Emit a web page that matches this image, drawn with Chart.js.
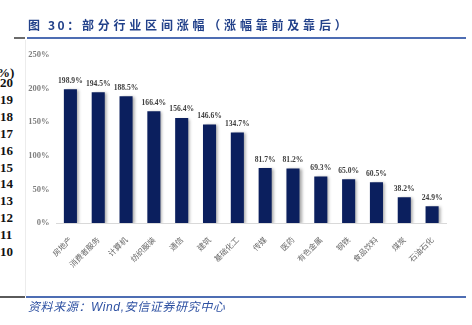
<!DOCTYPE html>
<html>
<head>
<meta charset="utf-8">
<script src="https://cdn.jsdelivr.net/npm/chart.js@4"></script>
<style>
  html, body { margin: 0; padding: 0; background: #fff; }
  #wrap { position: relative; width: 472px; height: 325px; overflow: hidden; background: #fff; }
  #chart { position: absolute; left: 0; top: 0; }
  .title { position: absolute; left: 28px; top: 16px; font: bold 12px "Noto Sans CJK SC", sans-serif;
           color: #22418a; letter-spacing: 3.8px; white-space: nowrap; line-height: 18px; }
  .title .num { letter-spacing: 2.6px; }
  .rule { position: absolute; height: 2px; }
  .src { position: absolute; left: 28px; top: 299px; font: italic 12px "Liberation Sans", "Noto Sans CJK SC", sans-serif;
         color: #2e51a2; letter-spacing: 0.6px; white-space: nowrap; line-height: 16px; }
  .side { position: absolute; left: 0; font: bold 13px "Liberation Serif", serif; color: #111; line-height: 14px; }
  .vline { position: absolute; left: 25px; top: 40px; width: 1px; height: 256px; background: #ececec; }
</style>
</head>
<body>
<div id="wrap">
  <div class="vline"></div>
  <div id="side"></div>
  <canvas id="chart" width="472" height="325"></canvas>
  <div class="title"><span class="num">图 30：</span>部分行业区间涨幅（涨幅靠前及靠后）</div>
  <div class="rule" style="left:14px; top:37px; width:11px; background:#6b6b6b;"></div>
  <div class="rule" style="left:27px; top:37px; width:439px; background:#4e6db3;"></div>
  <div class="rule" style="left:0px; top:296px; width:25px; background:#5a5a5a;"></div>
  <div class="rule" style="left:26px; top:296px; width:440px; background:#4e6db3;"></div>
  <div class="src">资料来源：Wind,安信证券研究中心</div>
</div>
<script>
// 行业区间涨幅（%）
const industries = ['房地产', '消费者服务', '计算机', '纺织服装', '通信', '建筑', '基础化工',
                    '传媒', '医药', '有色金属', '钢铁', '食品饮料', '煤炭', '石油石化'];
const gains = [198.9, 194.5, 188.5, 166.4, 156.4, 146.6, 134.7, 81.7, 81.2, 69.3, 65.0, 60.5, 38.2, 24.9];
const yTicks = [0, 50, 100, 150, 200, 250];
const sideNumbers = ['20', '19', '18', '17', '16', '15', '14', '13', '12', '11', '10'];

// page-edge numbering column
const side = document.getElementById('side');
const unit = document.createElement('div');
unit.className = 'side';
unit.textContent = '%)';
unit.style.top = '66px';
unit.style.left = '-3px';
side.appendChild(unit);
sideNumbers.forEach((t, i) => {
  const d = document.createElement('div');
  d.className = 'side';
  d.textContent = t;
  d.style.top = (76 + i * 16.9) + 'px';
  side.appendChild(d);
});

// soft drop shadow under the bars
const barShadow = {
  id: 'barShadow',
  beforeDatasetsDraw(chart) {
    const ctx = chart.ctx;
    ctx.save();
    ctx.shadowColor = 'rgba(0,0,0,0.35)';
    ctx.shadowOffsetX = 2;
    ctx.shadowOffsetY = 1;
    ctx.shadowBlur = 3;
  },
  afterDatasetsDraw(chart) {
    chart.ctx.restore();
  }
};

// value labels above each bar
const valueLabels = {
  id: 'valueLabels',
  afterDatasetsDraw(chart) {
    const ctx = chart.ctx;
    const meta = chart.getDatasetMeta(0);
    ctx.save();
    ctx.font = 'bold 7.6px "Liberation Serif", serif';
    ctx.fillStyle = '#404040';
    ctx.textAlign = 'center';
    ctx.textBaseline = 'middle';
    meta.data.forEach((bar, i) => {
      ctx.fillText(gains[i].toFixed(1) + '%', bar.x, bar.y - 8.5);
    });
    ctx.restore();
  }
};

new Chart(document.getElementById('chart'), {
  type: 'bar',
  data: {
    labels: industries,
    datasets: [{
      data: gains,
      backgroundColor: '#0b1f5e',
      borderWidth: 0,
      categoryPercentage: 1,
      barPercentage: 0.47
    }]
  },
  options: {
    responsive: false,
    animation: false,
    events: [],
    layout: { padding: { left: 0, top: 55, right: 26, bottom: 0 } },
    plugins: { legend: { display: false }, tooltip: { enabled: false } },
    scales: {
      x: {
        grid: { display: false, drawTicks: false },
        border: { display: true, color: '#d9d9d9', width: 1 },
        ticks: {
          minRotation: 45, maxRotation: 45, padding: 12, autoSkip: false,
          color: '#6a6a6a', font: { family: '"Noto Sans CJK SC", sans-serif', size: 7.8 }
        },
        afterFit(s) { s.height = 102; }
      },
      y: {
        min: 0, max: 250,
        grid: { display: false, drawTicks: false },
        border: { display: false },
        afterBuildTicks(s) { s.ticks = yTicks.map(v => ({ value: v })); },
        ticks: {
          padding: 7, color: '#7f7f7f',
          font: { family: '"Liberation Serif", serif', size: 8.5, weight: 'bold' },
          callback: v => v + '%'
        },
        afterFit(s) { s.width = 56.5; }
      }
    }
  },
  plugins: [barShadow, valueLabels]
});
</script>
</body>
</html>
